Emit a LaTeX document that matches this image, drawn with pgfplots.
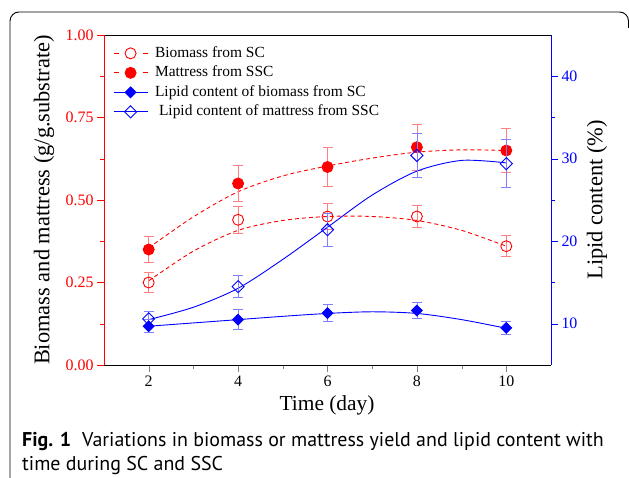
\documentclass[border=0pt]{standalone}
\usepackage{fontspec}
\setmainfont{Liberation Serif}
\newfontfamily\capfont{PT Sans}
\usepackage{pgfplots}
\usepackage{pgfplotstable}
\pgfplotsset{compat=1.18}

% measured points: x, value, error
\pgfplotstableread{
x y e
2 0.25 0.030
4 0.44 0.040
6 0.45 0.040
8 0.45 0.033
10 0.36 0.032
}\bioSC
\pgfplotstableread{
x y e
2 0.35 0.040
4 0.55 0.055
6 0.60 0.060
8 0.66 0.070
10 0.65 0.067
}\matSSC
\pgfplotstableread{
x y e
2 9.7 0.80
4 10.5 1.20
6 11.3 1.00
8 11.6 1.00
10 9.5 0.75
}\lipSC
\pgfplotstableread{
x y e
2 10.6 0.95
4 14.5 1.30
6 21.4 2.00
8 30.4 2.70
10 29.4 2.90
}\lipSSC

\pgfplotsset{
  common/.style={
    at={(104bp,113bp)}, anchor=south west, scale only axis,
    width=447bp, height=330bp,
    xmin=1, xmax=11,
    tick align=outside,
    major tick length=7bp, minor tick length=4bp,
    tick label style={font=\fontsize{16}{18}\selectfont},
    label style={font=\fontsize{22.5}{25}\selectfont},
    /pgf/number format/assume math mode=true,
    every axis plot/.append style={line width=0.9bp},
  },
  ebar/.style={error bars/.cd, y dir=both, y explicit,
    error bar style={#1!50, line width=0.8bp, solid},
    error mark options={rotate=90, #1!50, mark size=5bp, line width=0.8bp, solid},
    /pgfplots/.cd},
}

\begin{document}
\begin{tikzpicture}
\useasboundingbox (0,0) rectangle (629bp,478bp);
\draw[line width=0.9bp, rounded corners=9bp] (10bp,-5bp) -- (10bp,466bp) -- (628.5bp,466bp) -- (628.5bp,450bp);

\begin{axis}[common,
  axis x line=box, axis y line*=left,
  xtick pos=bottom,
  ymin=0, ymax=1,
  xtick={2,4,6,8,10}, minor xtick={3,5,7,9},
  ytick={0,0.25,0.5,0.75,1}, minor ytick={0.125,0.375,0.625,0.875},
  yticklabel style={red, /pgf/number format/fixed, /pgf/number format/fixed zerofill, /pgf/number format/precision=2},
  y axis line style={red}, y tick style={red},
  xlabel={Time (day)},
  xlabel style={at={(axis description cs:0.499,-0.121)}, anchor=center, font=\fontsize{21.5}{24}\selectfont},
  ylabel={Biomass and mattress (g/g.substrate)},
  ylabel style={at={(axis description cs:-0.134,0.5)}, anchor=center},
]
% fitted curves
\addplot[red, dash pattern=on 4bp off 3bp, smooth] coordinates {
(2,0.255) (3,0.345) (4,0.408) (5,0.438) (6,0.450) (7,0.450) (8,0.438) (9,0.408) (10,0.360)};
\addplot[red, dash pattern=on 4bp off 3bp, smooth] coordinates {
(2,0.355) (3,0.449) (4,0.525) (5,0.573) (6,0.603) (7,0.627) (8,0.645) (9,0.652) (10,0.650)};
% data
\addplot[red, only marks, mark=o, mark size=5.5bp, mark options={fill=white, solid}, ebar=red]
  table[x=x, y=y, y error=e] {\bioSC};
\addplot[red, only marks, mark=*, mark size=5.5bp, mark options={solid}, ebar=red]
  table[x=x, y=y, y error=e] {\matSSC};
\end{axis}

\begin{axis}[common,
  axis x line=none, axis y line*=right,
  ymin=5, ymax=45,
  ytick={10,20,30,40}, minor ytick={15,25,35},
  yticklabel style={blue},
  y axis line style={blue}, y tick style={blue},
  ylabel={Lipid content (\%)},
  ylabel style={at={(axis description cs:1.103,0.5)}, anchor=center},
  legend style={at={(axis description cs:0.02,0.967)}, anchor=north west,
    draw=none, fill=none, inner sep=0pt,
    font=\fontsize{15.5}{17}\selectfont,
    row sep=5bp, column sep=7bp,
    nodes={inner sep=0bp, text height=11bp, text depth=3.5bp}},
  legend cell align=left,
  legend image code/.code={\draw[mark repeat=2, mark phase=2, #1] plot coordinates {(0bp,0bp) (17bp,0bp) (34bp,0bp)};},
]
\addlegendimage{red, line width=0.9bp, dash pattern=on 5bp off 24bp, mark=o, mark size=5.5bp, mark options={solid, fill=white}}
\addlegendentry{Biomass from SC}
\addlegendimage{red, line width=0.9bp, dash pattern=on 5bp off 24bp, mark=*, mark size=5.5bp, mark options={solid}}
\addlegendentry{Mattress from SSC}
\addlegendimage{blue, line width=0.9bp, mark=square*, mark size=3.8bp, mark options={rotate=45}}
\addlegendentry{Lipid content of biomass from SC}
\addlegendimage{blue, line width=0.9bp, mark=square, mark size=4.3bp, mark options={rotate=45, fill=white}}
\addlegendentry{\hspace{4bp}Lipid content of mattress from SSC}

\addplot[blue, smooth, forget plot] coordinates {
(2,9.7) (3,10.1) (4,10.5) (5,10.9) (6,11.25) (7,11.45) (8,11.25) (9,10.5) (10,9.45)};
\addplot[blue, smooth, forget plot] coordinates {
(2,10.5) (3,12.0) (4,14.3) (5,17.8) (6,21.7) (7,25.6) (8,28.5) (9,29.8) (10,29.5)};
\addplot[blue, only marks, forget plot, mark=square*, mark size=3.8bp, mark options={rotate=45}, ebar=blue]
  table[x=x, y=y, y error=e] {\lipSC};
\addplot[blue, only marks, forget plot, mark=square, mark size=4.3bp, mark options={rotate=45, fill=white}, ebar=blue]
  table[x=x, y=y, y error=e] {\lipSSC};
\end{axis}

\node[anchor=base west, inner sep=0pt, font=\capfont\fontsize{20}{23}\selectfont] at (22bp,32bp)
  {\textbf{Fig. 1}\hspace{0.55em}Variations in biomass or mattress yield and lipid content with};
\node[anchor=base west, inner sep=0pt, font=\capfont\fontsize{20}{23}\selectfont] at (22bp,8bp)
  {time during SC and SSC};
\end{tikzpicture}
\end{document}
